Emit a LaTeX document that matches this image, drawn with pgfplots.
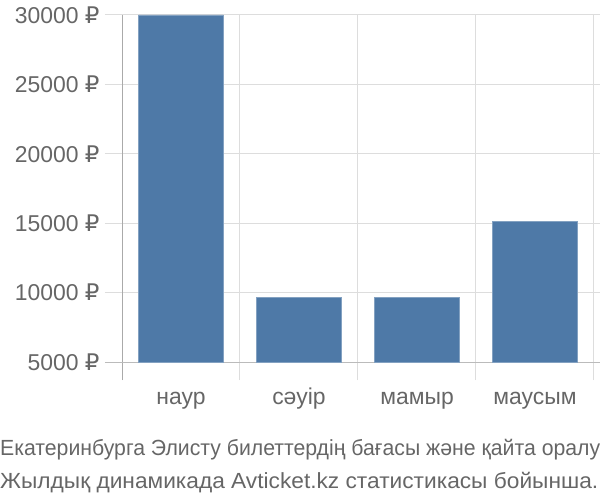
\documentclass[border=0pt]{standalone}
\usepackage{pgfplots}
\pgfplotsset{compat=1.18}
\usepackage{pgfplotstable}
\usepackage{fontspec}
\setmainfont{Liberation Sans}
\newfontfamily\dejavu{DejaVu Sans}
\newcommand\rub{{\dejavu ₽}}
\definecolor{barblue}{HTML}{4E79A7}
\definecolor{txtgray}{HTML}{666666}
\definecolor{gridgray}{HTML}{DDDDDD}
\definecolor{axgray}{HTML}{AAAAAA}
\pgfplotstableread{
x price
0 30000
1 9640
2 9640
3 15120
}\prices
\newsavebox\capa
\newsavebox\capb
\begin{document}
\sbox\capa{\fontsize{22}{22}\selectfont\color{txtgray}Екатеринбурга Элисту билеттердің бағасы және қайта оралу}%
\sbox\capb{\fontsize{22}{22}\selectfont\color{txtgray}Жылдық динамикада Avticket.kz статистикасы бойынша.}%
\begin{tikzpicture}
\useasboundingbox (0,0) rectangle (600bp,-500bp);
\begin{axis}[
  at={(122bp,-380bp)}, anchor=south west,
  scale only axis, width=478bp, height=365bp,
  xmin=-0.5, xmax=3.551, ymin=3703, ymax=30000,
  scaled y ticks=false,
  axis line style={draw=none},
  tick style={draw=none},
  ybar stacked, bar width=0.72,
  xtick={0,1,2,3},
  xticklabels={наур,сәуір,мамыр,маусым},
  xticklabel style={font=\fontsize{23}{23}\selectfont, text=txtgray, anchor=base, yshift=-24bp, inner sep=0pt},
  minor xtick={-0.5,0.5,1.5,2.5,3.5},
  xminorgrids, minor x grid style={gridgray, line width=1bp},
  ytick={5000,10000,15000,20000,25000,30000},
  yticklabels={5000 \rub,10000 \rub,15000 \rub,20000 \rub,25000 \rub,30000 \rub},
  yticklabel style={font=\fontsize{23}{23}\selectfont, text=txtgray, anchor=east, xshift=-19bp},
  ymajorgrids, major y grid style={gridgray, line width=1bp},
  clip=false,
]
\foreach \v in {10000,15000,20000,25000,30000} {
  \edef\tmp{\noexpand\draw[gridgray, line width=1bp] ([xshift=-17bp]axis cs:-0.5,\v) -- (axis cs:-0.5,\v);}\tmp
}
\addplot[draw=none, fill=none, forget plot] table[x=x, y expr=5000] {\prices};
\addplot[fill=barblue, draw=barblue!70!white, line width=0.5bp] table[x=x, y expr=\thisrow{price}-5000] {\prices};
\draw[axgray!80!white, line width=1bp] ([xshift=-17bp]axis cs:-0.5,5000) -- (axis cs:3.551,5000);
\draw[axgray, line width=1bp] (axis cs:-0.5,3703) -- (axis cs:-0.5,30000);
\end{axis}
\pgfmathsetmacro\sxa{600*1.00375/\wd\capa}
\pgfmathsetmacro\sxb{598*1.00375/\wd\capb}
\node[anchor=base west, inner sep=0] at (0,-455bp) {\scalebox{\sxa}[1]{\usebox\capa}};
\node[anchor=base west, inner sep=0] at (0,-488bp) {\scalebox{\sxb}[1]{\usebox\capb}};
\end{tikzpicture}
\end{document}
